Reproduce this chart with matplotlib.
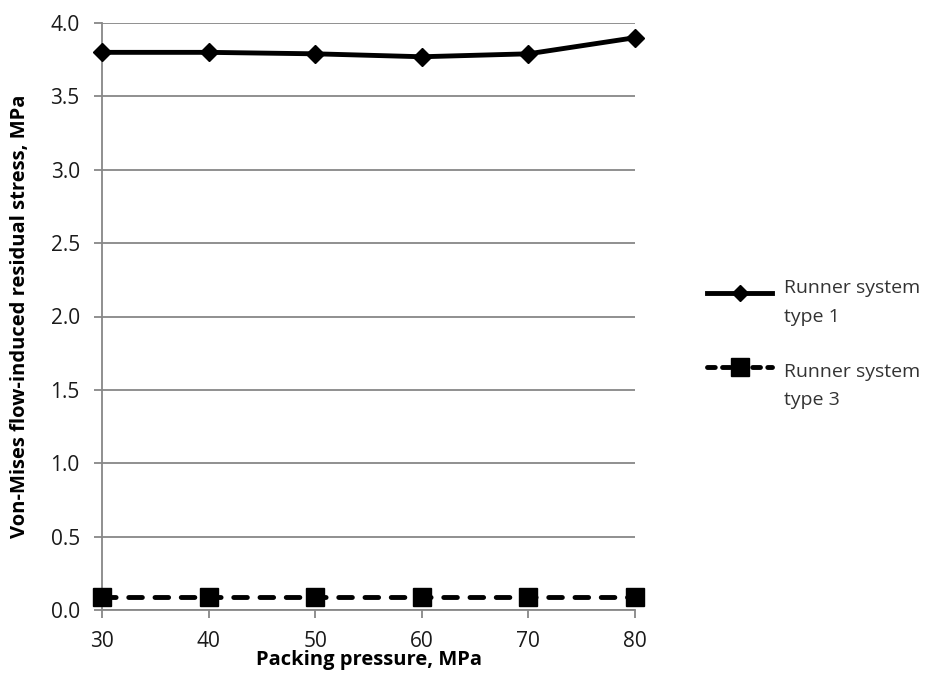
import matplotlib
matplotlib.use("Agg")
import matplotlib.pyplot as plt
from matplotlib.lines import Line2D

pressure = [30, 40, 50, 60, 70, 80]
stress_type1 = [3.80, 3.80, 3.79, 3.77, 3.79, 3.90]
stress_type3 = [0.09, 0.09, 0.09, 0.09, 0.09, 0.09]
series_labels = ["Runner system\ntype 1", "Runner system\ntype 3"]
yticks = [0.0, 0.5, 1.0, 1.5, 2.0, 2.5, 3.0, 3.5, 4.0]

plt.rcParams["font.family"] = ["Open Sans", "DejaVu Sans"]

W, H = 940, 682
fig = plt.figure(figsize=(W / 100, H / 100), dpi=100)
ax = fig.add_axes([102 / W, 1 - 610 / H, 533 / W, 587 / H])

DASH = (0, (2.8, 2.6))
solid_style = dict(color="black", lw=3.5, marker="D", ms=9, mfc="black", mec="black")
dash_style = dict(color="black", lw=3.5, ls=DASH, dash_capstyle="round",
                  marker="s", ms=13.5, mfc="black", mec="black")

ax.plot(pressure, stress_type1, clip_on=False, zorder=4, **solid_style)
ax.plot(pressure, stress_type3, clip_on=False, zorder=4, **dash_style)

ax.set_xlim(30, 80)
ax.set_ylim(0, 4.0)
ax.set_xticks(pressure)
ax.set_yticks(yticks)
ax.set_yticklabels([f"{v:.1f}" for v in yticks])
ax.grid(axis="y", color="#878787", lw=1.3)
ax.set_axisbelow(True)
for side in ("top", "right"):
    ax.spines[side].set_visible(False)
for side in ("left", "bottom"):
    ax.spines[side].set_color("#878787")
    ax.spines[side].set_linewidth(1.3)
ax.tick_params(axis="both", colors="#878787", labelcolor="#1a1a1a",
               labelsize=15, length=6, width=1.3)
ax.tick_params(axis="x", pad=9)
ax.tick_params(axis="y", pad=10)

ax.set_xlabel("Packing pressure, MPa", fontsize=14.5, fontweight="bold")
ax.xaxis.set_label_coords(0.5, -0.068)
ax.set_ylabel("Von-Mises flow-induced residual stress, MPa", fontsize=14.5,
              fontweight="bold")
ax.yaxis.set_label_coords(-0.135, 0.5)

# legend drawn in figure pixel coordinates
def fx(px):
    return px / W

def fy(py):
    return 1 - py / H

entries = [(293, 302.5, solid_style), (367, 386, dash_style)]
for (line_y, text_y, style), label in zip(entries, series_labels):
    handle = Line2D([fx(707), fx(739.5), fx(772)], [fy(line_y)] * 3,
                    transform=fig.transFigure, markevery=[1], **style)
    if style is solid_style:
        handle.set_markersize(8)
    else:
        handle.set_markersize(12.5)
        handle.set_linestyle((0, (1.6, 1.5)))
    fig.add_artist(handle)
    fig.text(fx(784), fy(text_y), label, fontsize=14, color="#333333",
             va="center", ha="left", linespacing=1.75)

fig.savefig("out.png", dpi=100)
